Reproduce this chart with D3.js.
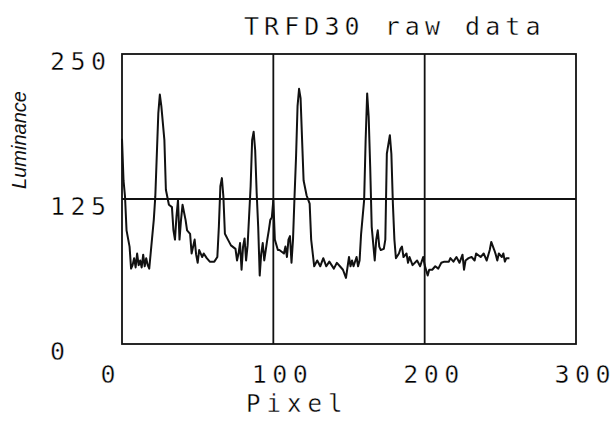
<!DOCTYPE html>
<html>
<head>
<meta charset="utf-8">
<script src="https://cdn.jsdelivr.net/npm/d3@7"></script>
<style>
  body { margin: 0; background: #fff; }
  .plotter { font-family: "DejaVu Sans Mono", monospace;
             font-feature-settings: "zero" 1; font-variant-numeric: slashed-zero;
             fill: #000; stroke: #fff; stroke-width: 0.4px; paint-order: normal; }
</style>
</head>
<body>
<svg id="chart" width="612" height="432"></svg>
<script>
// Luminance profile along the scan line (pixel index, luminance value)
const pixel = [
  0, 1, 2, 3, 5, 6, 7, 8, 9, 10, 11, 12, 13, 14, 15, 16, 17, 18, 21, 22,
  24, 25, 26, 28, 29, 31, 33, 34, 35, 36, 37, 38, 39, 40, 42, 43, 45, 46, 48, 49,
  50, 51, 53, 54, 56, 58, 61, 63, 64, 65, 66, 67, 68, 70, 72, 75, 76, 77, 78, 79,
  80, 81, 82, 83, 85, 86, 87, 88, 89, 90, 91, 92, 93, 94, 96, 97, 98, 99, 100, 101,
  103, 104, 107, 108, 109, 110, 111, 112, 113, 114, 115, 116, 117, 118, 119, 120, 122, 124, 125, 127,
  129, 131, 133, 135, 137, 140, 142, 144, 146, 148, 150, 151, 152, 153, 155, 156, 157, 158, 160, 161,
  162, 163, 164, 165, 167, 168, 169, 170, 171, 173, 174, 175, 177, 178, 179, 180, 181, 183, 184, 185,
  186, 188, 189, 190, 192, 195, 197, 199, 200, 202, 203, 205, 207, 209, 211, 213, 216, 217, 219, 221,
  223, 225, 226, 227, 229, 231, 233, 234, 237, 239, 241, 243, 244, 246, 247, 248, 249, 251, 252, 253,
  254, 256
];
const luminance = [
  177, 141, 127, 98, 84, 65, 68, 74, 66, 78, 68, 72, 66, 77, 67, 74, 68, 65, 107, 127,
  199, 215, 205, 176, 133, 120, 118, 98, 90, 110, 124, 90, 107, 120, 107, 98, 95, 78, 90, 77,
  70, 81, 75, 78, 74, 71, 71, 75, 101, 136, 143, 127, 95, 90, 85, 82, 72, 78, 87, 64,
  84, 91, 72, 85, 136, 176, 183, 167, 130, 101, 59, 78, 87, 72, 90, 98, 107, 109, 124, 90,
  81, 81, 78, 84, 75, 90, 93, 70, 90, 127, 161, 205, 220, 212, 176, 141, 128, 121, 90, 67,
  72, 67, 74, 67, 71, 65, 70, 67, 64, 57, 75, 67, 72, 67, 75, 67, 72, 95, 124, 176,
  216, 196, 153, 101, 72, 90, 98, 84, 81, 82, 90, 164, 180, 164, 121, 90, 74, 78, 82, 84,
  75, 78, 70, 75, 68, 72, 67, 75, 68, 59, 64, 64, 67, 65, 70, 71, 71, 74, 71, 75,
  70, 77, 64, 72, 74, 75, 72, 78, 75, 78, 72, 81, 88, 81, 77, 72, 78, 75, 78, 71,
  74, 74
];

const xTicks = [0, 100, 200, 300];
const yTicks = [0, 125, 250];
const xGrid = [100, 200];
const yGrid = [125];
const titleText = "TRFD30 raw data";
const xLabel = "Pixel";
const yLabel = "Luminance";

const svg = d3.select("#chart");
const plotLeft = 122, plotRight = 576, plotTop = 54, plotBottom = 344;

const x = d3.scaleLinear().domain([0, 300]).range([plotLeft, plotRight]);
const y = d3.scaleLinear().domain([0, 250]).range([plotBottom, plotTop]);

// place each character on a fixed pitch, like a pen plotter
function pitch(str, x0, step) {
  return Array.from(str, (_, i) => (x0 + i * step).toFixed(1)).join(" ");
}

// frame and grid
svg.append("rect")
  .attr("x", plotLeft).attr("y", plotTop)
  .attr("width", plotRight - plotLeft).attr("height", plotBottom - plotTop)
  .attr("fill", "none").attr("stroke", "#111").attr("stroke-width", 1.8);

svg.append("g").selectAll("line").data(xGrid).join("line")
  .attr("x1", d => x(d)).attr("x2", d => x(d))
  .attr("y1", plotTop).attr("y2", plotBottom)
  .attr("stroke", "#111").attr("stroke-width", 1.8);

svg.append("g").selectAll("line").data(yGrid).join("line")
  .attr("x1", plotLeft).attr("x2", plotRight)
  .attr("y1", d => y(d)).attr("y2", d => y(d))
  .attr("stroke", "#111").attr("stroke-width", 1.8);

// luminance trace
const line = d3.line().x((d, i) => x(pixel[i])).y(d => y(d));
svg.append("path")
  .attr("d", line(luminance))
  .attr("fill", "none").attr("stroke", "#111")
  .attr("stroke-width", 2).attr("stroke-linejoin", "round");

// tick labels
svg.append("g").selectAll("text").data(xTicks).join("text")
  .attr("class", "plotter")
  .attr("font-size", 25)
  .attr("x", d => pitch(String(d), x(d) - 21.5, 20.5))
  .attr("y", 383)
  .text(d => String(d));

svg.append("g").selectAll("text").data(yTicks).join("text")
  .attr("class", "plotter")
  .attr("font-size", 25)
  .attr("x", d => pitch(String(d), 50, 20.5))
  .attr("y", d => y(d) + 15.5)
  .text(d => String(d));

// titles
svg.append("text")
  .attr("class", "plotter")
  .attr("font-size", 25)
  .attr("x", pitch(titleText, 244, 20.1))
  .attr("y", 35)
  .text(titleText);

svg.append("text")
  .attr("class", "plotter")
  .attr("font-size", 24)
  .attr("x", pitch(xLabel, 246, 20.5))
  .attr("y", 412)
  .text(xLabel);

svg.append("text")
  .attr("transform", "translate(26,140) rotate(-90)")
  .attr("text-anchor", "middle")
  .attr("font-family", "Liberation Sans, Arial, sans-serif")
  .attr("font-style", "italic")
  .attr("font-size", 20)
  .attr("fill", "#111")
  .text(yLabel);
</script>
</body>
</html>
